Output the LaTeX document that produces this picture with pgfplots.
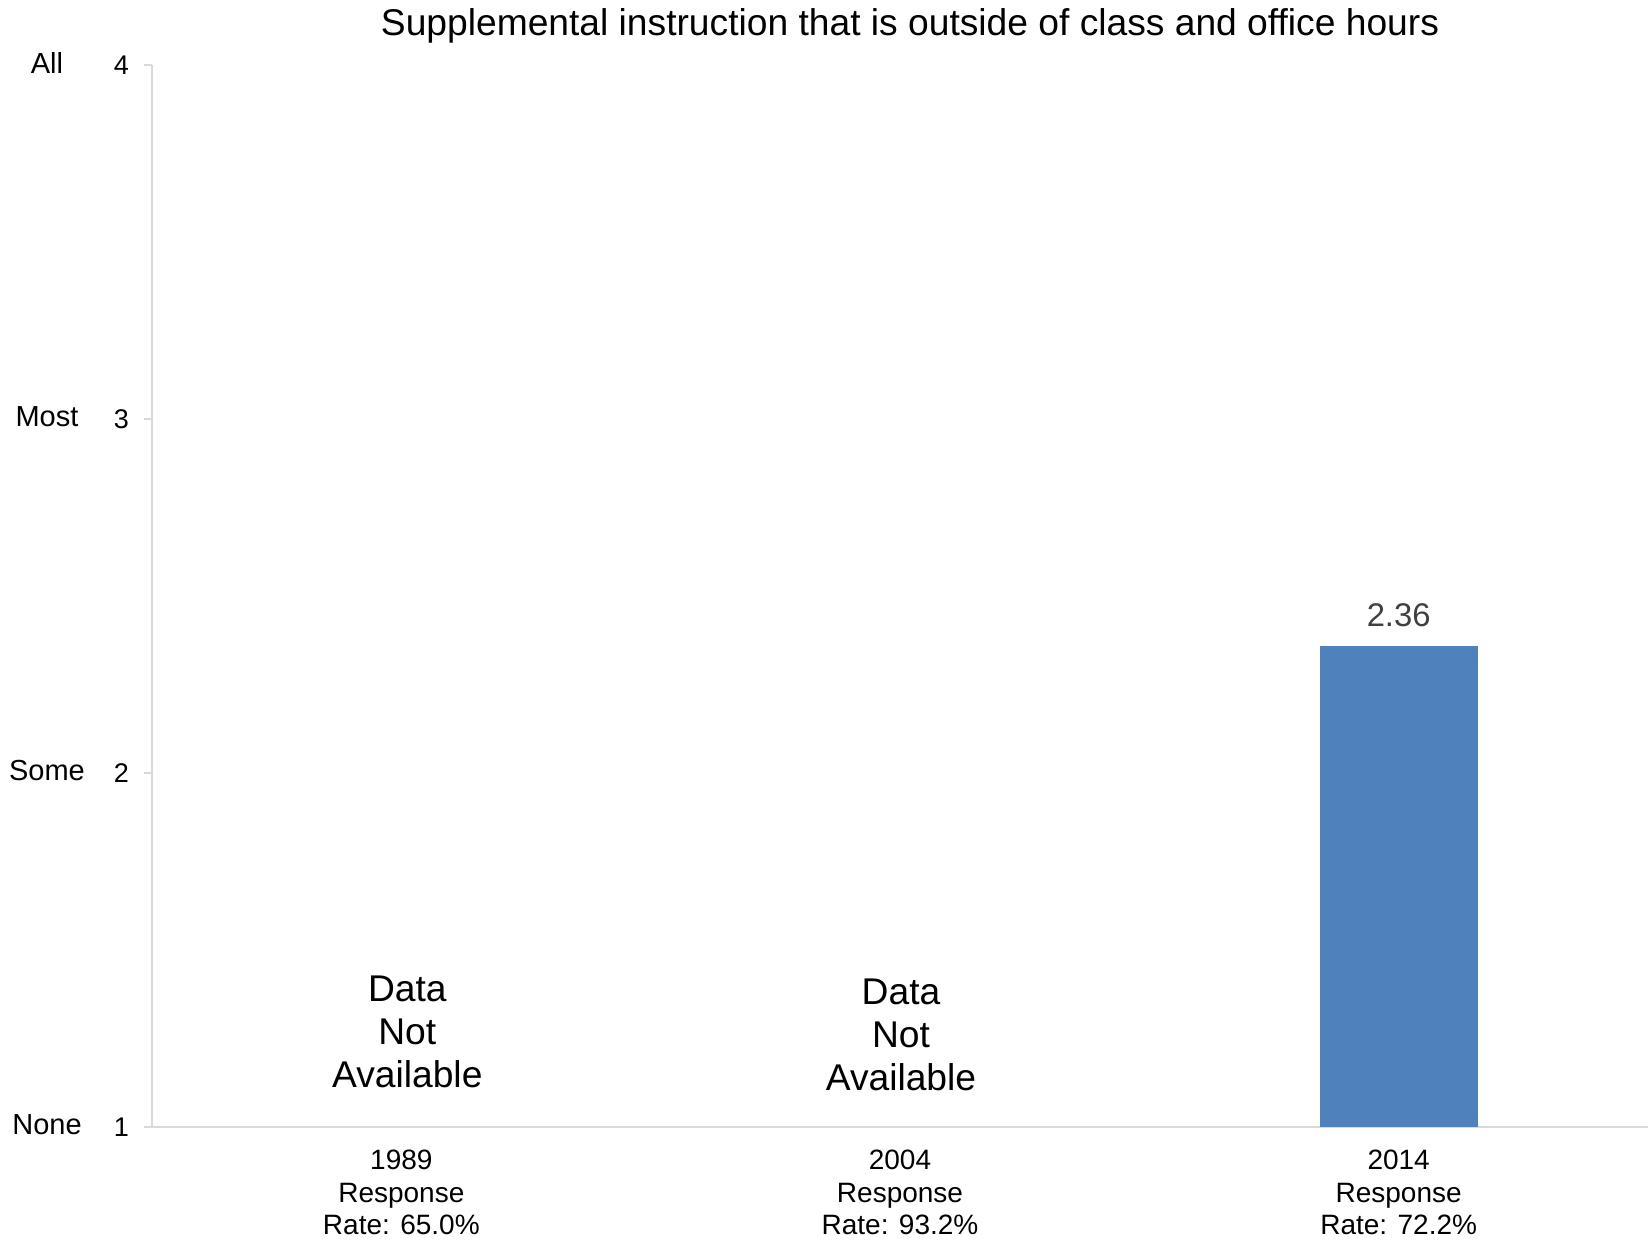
\documentclass[border=0pt]{standalone}
\usepackage{fontspec}
\setmainfont{Liberation Sans}
\usepackage{pgfplots}
\pgfplotsset{compat=1.18}
\definecolor{barblue}{RGB}{79,129,189}
\definecolor{axgray}{RGB}{217,217,217}
\definecolor{lblgray}{RGB}{64,64,64}
\begin{document}
\begin{tikzpicture}
\begin{axis}[
  at={(0,0)}, anchor=south west,
  scale only axis,
  width=748pt, height=531pt,
  xmin=-0.5, xmax=2.5, ymin=1, ymax=4,
  axis x line*=bottom, axis y line*=left,
  axis line style={draw=axgray, line width=0.8pt},
  xtick={0,1,2},
  xticklabels={1989\\Response\\Rate: 65.0\%, 2004\\Response\\Rate: 93.2\%, 2014\\Response\\Rate: 72.2\%},
  xticklabel style={align=center, font=\fontsize{14}{16.3}\selectfont, yshift=-4pt},
  x tick style={draw=none},
  ytick={1,2,3,4},
  y tick style={draw=axgray, line width=0.8pt},
  tick align=outside,
  major tick length=4pt,
  yticklabel style={font=\fontsize{13.5}{15}\selectfont, xshift=-4pt},
  /pgf/number format/assume math mode=true,
  ybar, bar width=79pt,
  nodes near coords,
  every node near coord/.append style={font=\fontsize{16.4}{18}\selectfont, text=lblgray, yshift=6pt},
  clip=false,
]
\addplot[fill=barblue, draw=none] coordinates {(2,2.36)};
\node[font=\fontsize{18.6}{21.5}\selectfont, align=center] at (axis cs:0,1.268) [xshift=3pt] {Data\\Not\\Available};
\node[font=\fontsize{18.6}{21.5}\selectfont, align=center] at (axis cs:1,1.259) [xshift=0.5pt] {Data\\Not\\Available};
\node[font=\fontsize{14.5}{16}\selectfont] at (axis cs:-0.5,4) [xshift=-52.5pt, yshift=1pt] {All};
\node[font=\fontsize{14.5}{16}\selectfont] at (axis cs:-0.5,3) [xshift=-52.5pt, yshift=1pt] {Most};
\node[font=\fontsize{14.5}{16}\selectfont] at (axis cs:-0.5,2) [xshift=-52.5pt, yshift=1pt] {Some};
\node[font=\fontsize{14.5}{16}\selectfont] at (axis cs:-0.5,1) [xshift=-52.5pt, yshift=1pt] {None};
\node[font=\fontsize{18.6}{21}\selectfont] at (rel axis cs:0.5,1) [xshift=5pt, yshift=19.5pt] {Supplemental instruction that is outside of class and office hours};
\end{axis}
\pgfresetboundingbox
\path[use as bounding box] (-76pt,-56.5pt) rectangle (748pt,563.5pt);
\end{tikzpicture}
\end{document}
